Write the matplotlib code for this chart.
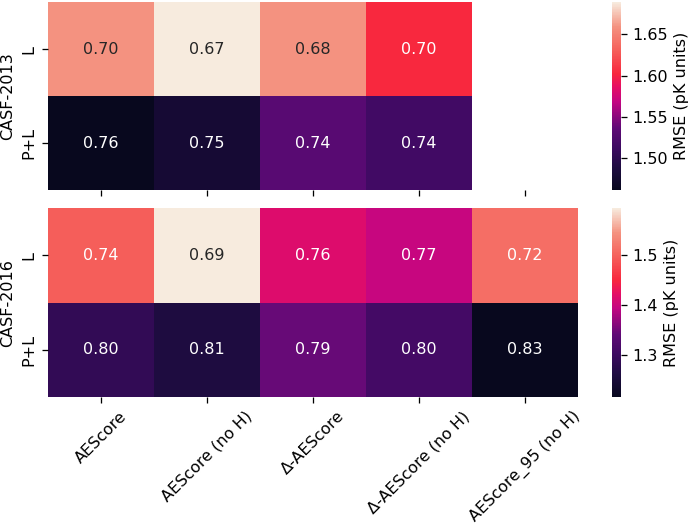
import numpy as np
import matplotlib
matplotlib.use("Agg")
import matplotlib.pyplot as plt
from matplotlib.colors import LinearSegmentedColormap
import seaborn as sns

methods = ["AEScore", "AEScore (no H)", "Δ-AEScore", "Δ-AEScore (no H)", "AEScore_95 (no H)"]
systems = ["L", "P+L"]

# colour = RMSE, annotation = Pearson r
rmse_2013 = np.array([[1.659, 1.689, 1.659, 1.602, np.nan],
                      [1.461, 1.478, 1.532, 1.516, np.nan]])
r_2013 = np.array([[0.70, 0.67, 0.68, 0.70, np.nan],
                   [0.76, 0.75, 0.74, 0.74, np.nan]])

rmse_2016 = np.array([[1.496, 1.594, 1.416, 1.397, 1.511],
                      [1.288, 1.261, 1.345, 1.310, 1.216]])
r_2016 = np.array([[0.74, 0.69, 0.76, 0.77, 0.72],
                   [0.80, 0.81, 0.79, 0.80, 0.83]])

# rocket-like map, a bit more saturated
stops = [(0.00, (8, 8, 30)), (0.12, (30, 12, 65)), (0.23, (62, 10, 98)),
         (0.33, (95, 10, 118)), (0.47, (195, 5, 130)), (0.55, (230, 15, 100)),
         (0.62, (248, 40, 62)), (0.75, (245, 98, 92)), (0.87, (244, 146, 128)),
         (1.00, (247, 235, 222))]
cmap = LinearSegmentedColormap.from_list(
    "rk", [(p, tuple(c / 255 for c in rgb)) for p, rgb in stops])

DPI = 115
fig = plt.figure(figsize=(690 / DPI, 524 / DPI), dpi=DPI)
ax1 = fig.add_axes([0.0696, 0.637, 0.768, 0.359])
ax2 = fig.add_axes([0.0696, 0.242, 0.768, 0.361])
cax1 = fig.add_axes([0.887, 0.637, 0.013, 0.359])
cax2 = fig.add_axes([0.887, 0.242, 0.013, 0.361])

sns.heatmap(rmse_2013, annot=r_2013, fmt=".2f", cmap=cmap, ax=ax1, cbar_ax=cax1,
            xticklabels=methods, yticklabels=systems,
            cbar_kws={"label": "RMSE (pK units)"})
sns.heatmap(rmse_2016, annot=r_2016, fmt=".2f", cmap=cmap, ax=ax2, cbar_ax=cax2,
            xticklabels=methods, yticklabels=systems,
            cbar_kws={"label": "RMSE (pK units)"})

ax1.set_ylabel("CASF-2013")
ax2.set_ylabel("CASF-2016")
ax1.set_xticklabels([])
for ax in (ax1, ax2):
    plt.setp(ax.get_yticklabels(), rotation=90, va="center")
plt.setp(ax2.get_xticklabels(), rotation=45, ha="center")

cax1.set_yticks([1.50, 1.55, 1.60, 1.65])
cax2.set_yticks([1.3, 1.4, 1.5])

fig.savefig("out.png", dpi=DPI)
